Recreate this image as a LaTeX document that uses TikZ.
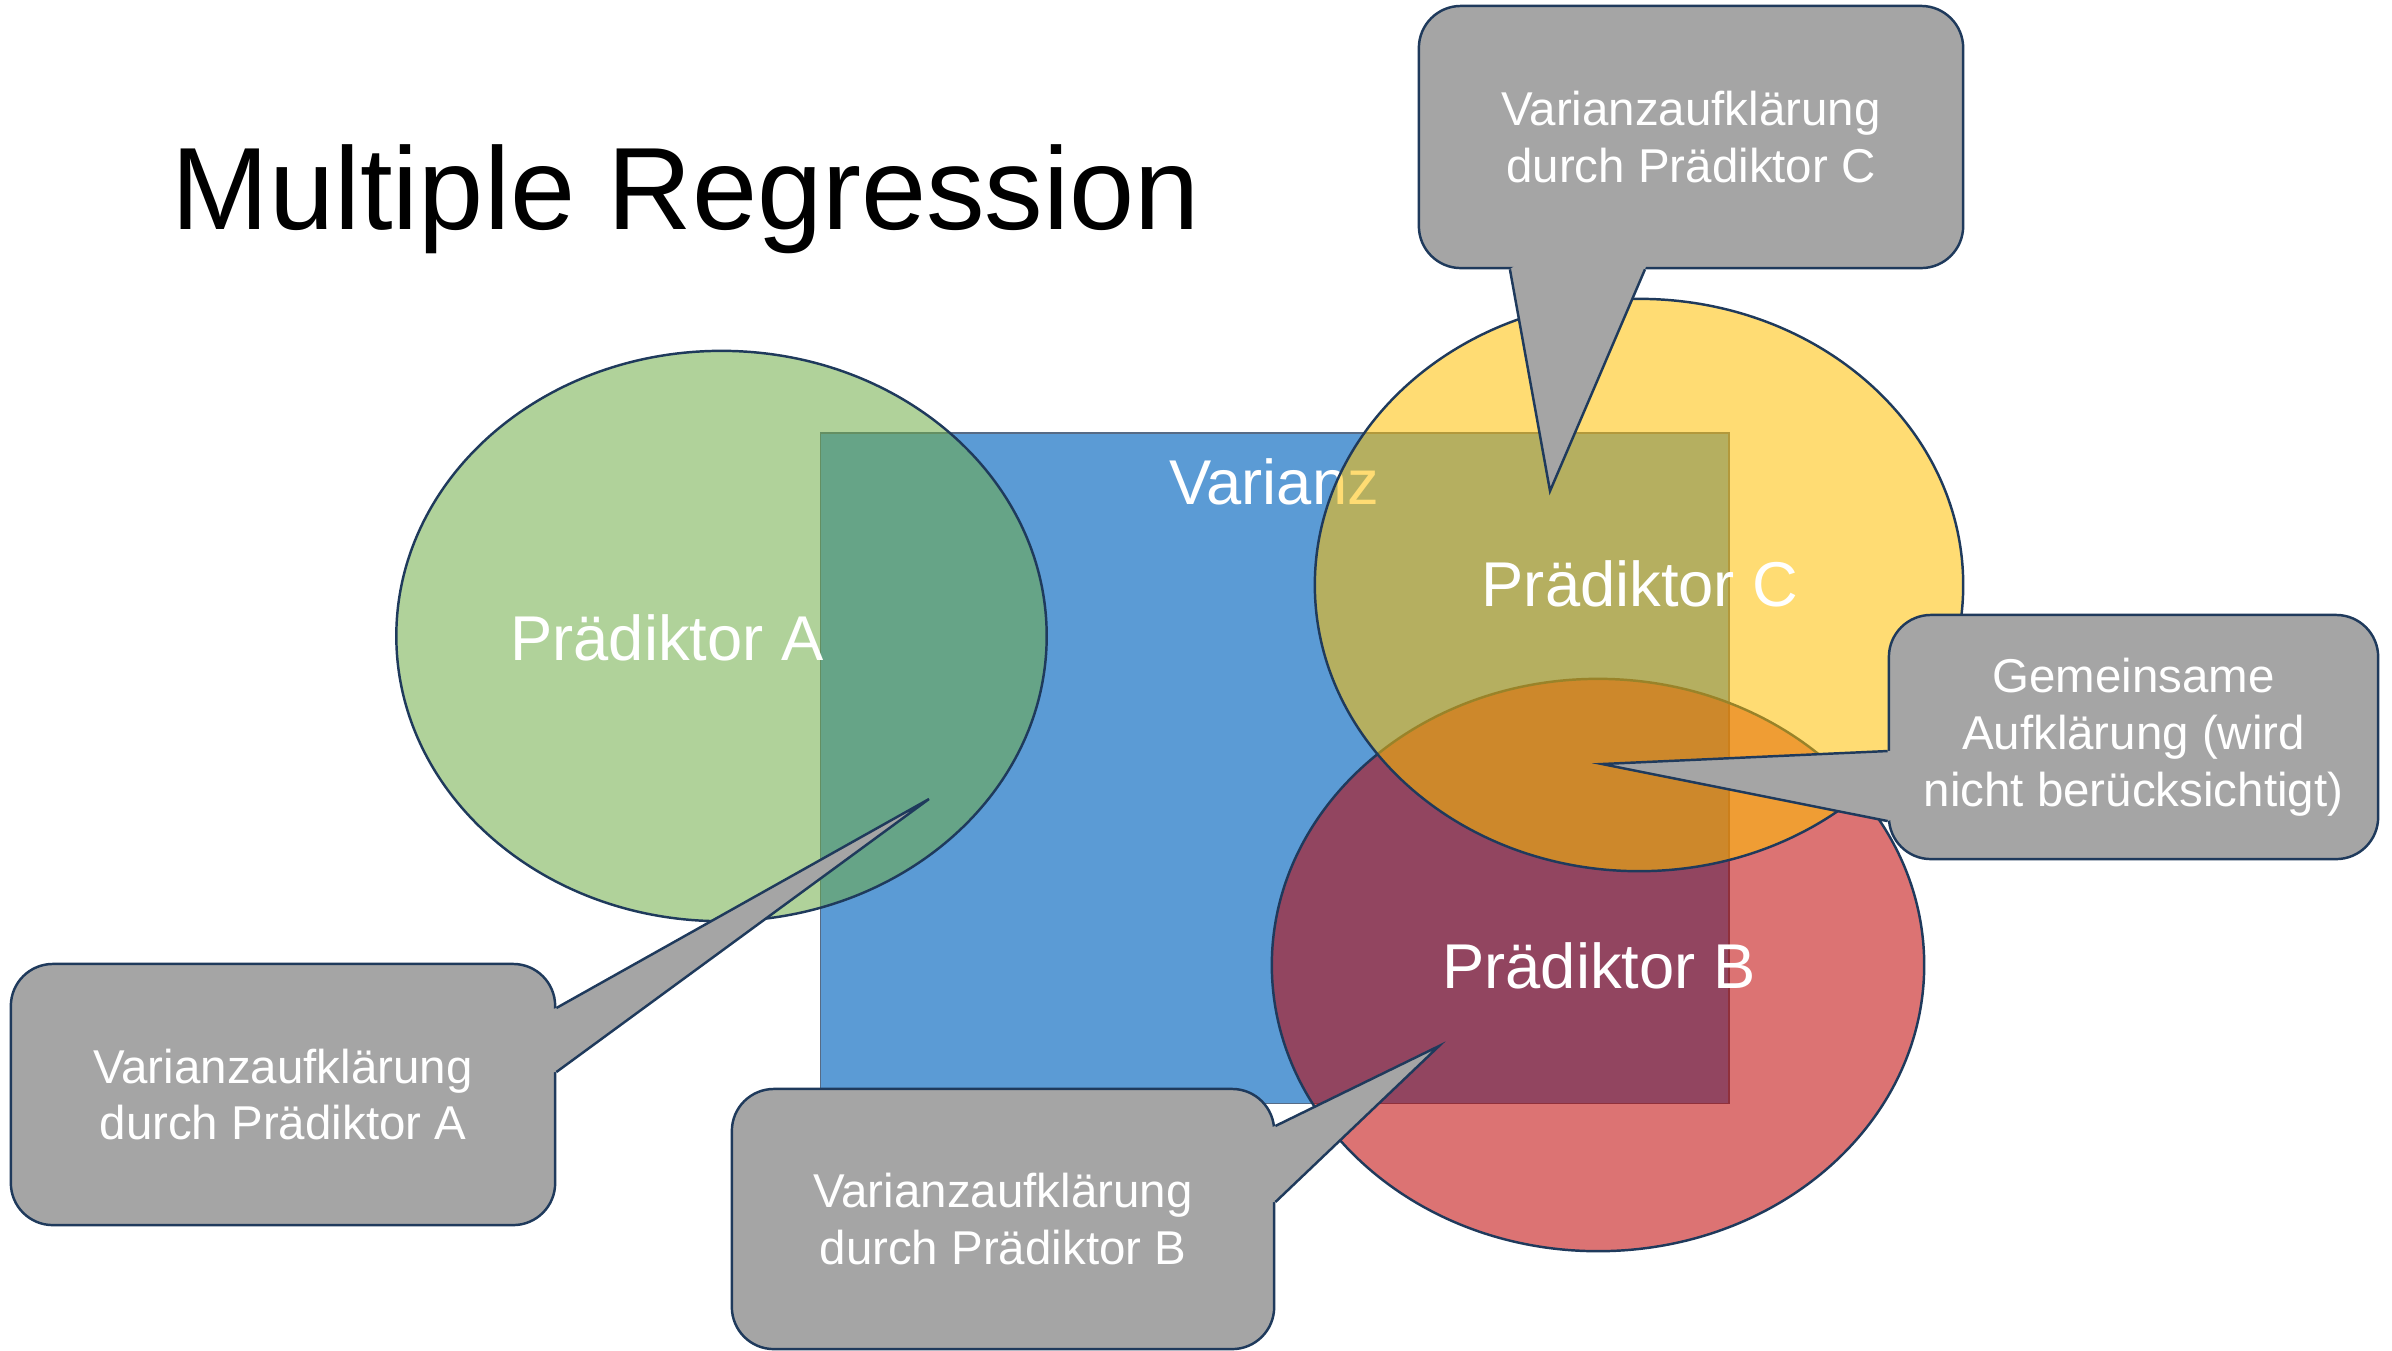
\documentclass[tikz,border=0pt]{standalone}
\usepackage{fontspec}
\setmainfont{Liberation Sans}
\usetikzlibrary{shapes.geometric,calc}
\definecolor{rimblue}{HTML}{1F3A5C}
\definecolor{varblue}{HTML}{5B9BD5}
\definecolor{grA}{HTML}{70AD47}
\definecolor{redB}{HTML}{C00000}
\definecolor{yelC}{HTML}{FFC000}
\definecolor{bubblegray}{HTML}{A5A5A5}
\tikzset{ell/.style={ellipse, draw=rimblue, line width=0.7pt, fill opacity=0.55, inner sep=0pt},
lab/.style={text=white, inner sep=0pt, font=\fontsize{18}{22}\selectfont},
%callout boxes, the pointer is added afterwards
bubble/.style={rectangle, rounded corners=0.42cm, fill=bubblegray, draw=rimblue, line width=0.7pt,
  text=white, align=center, inner sep=0pt, font=\fontsize{13.5}{16.2}\selectfont},
pointer/.style={draw=rimblue, line width=0.7pt}}

\begin{document}
\begin{tikzpicture}[x=0.01cm, y=-0.01cm]
\useasboundingbox (0,0) rectangle (2392,1350);

\node[anchor=base west, inner sep=0pt, font=\fontsize{33.3}{40}\selectfont] (title) at (171,229) {Multiple Regression};

\node[draw=rimblue!75, line width=0.4pt, fill=varblue, inner sep=0pt, minimum width=9.08cm, minimum height=6.70cm] (var) at (1274.5,768) {};
\node[lab] (varlab) at (1274,482) {Varianz};

\node[ell, fill=grA, minimum width=6.50cm, minimum height=5.70cm] (ellA) at (721.5,636) {};
\node[ell, fill=redB, minimum width=6.52cm, minimum height=5.72cm] (ellB) at (1598,965) {};
\node[ell, fill=yelC, minimum width=6.48cm, minimum height=5.72cm] (ellC) at (1639,585) {};

\node[lab] (labA) at (667,638) {Prädiktor A};
\node[lab] (labB) at (1599,966) {Prädiktor B};
\node[lab] (labC) at (1640,584) {Prädiktor C};

\node[bubble, minimum width=5.44cm, minimum height=2.61cm] (callA) at (283,1094.5) {Varianzaufklärung\\durch Prädiktor A};
\node[bubble, minimum width=5.42cm, minimum height=2.60cm] (callB) at (1003,1219) {Varianzaufklärung\\durch Prädiktor B};
\node[bubble, minimum width=5.44cm, minimum height=2.62cm] (callC) at (1691,137) {Varianzaufklärung\\durch Prädiktor C};
\node[bubble, minimum width=4.89cm, minimum height=2.44cm] (callG) at (2133.5,737) {Gemeinsame\\Aufklärung (wird\\nicht berücksichtigt)};

\coordinate (tipA) at (929,799);
\coordinate (tipB) at (1439,1046);
\coordinate (tipC) at (1550,491);
\coordinate (tipG) at (1602,764);

\coordinate (callA1) at ([yshift=0.865cm]callA.east);
\coordinate (callA2) at ([yshift=0.225cm]callA.east);
\coordinate (callB1) at ([yshift=0.93cm]callB.east);
\coordinate (callB2) at ([yshift=0.17cm]callB.east);
\coordinate (callC1) at ([xshift=-1.81cm]callC.south);
\coordinate (callC2) at ([xshift=-0.46cm]callC.south);
\coordinate (callG1) at ([yshift=-0.14cm]callG.west);
\coordinate (callG2) at ([yshift=-0.84cm]callG.west);

\foreach \c in {A,B,C,G}{
    \fill[bubblegray] (call\c1) -- (tip\c) -- (call\c2) -- ($(call\c2)!2pt!(call\c.center)$) -- ($(call\c1)!2pt!(call\c.center)$) -- cycle;
    \draw[pointer] (call\c1) -- (tip\c) -- (call\c2);
}

\end{tikzpicture}
\end{document}
